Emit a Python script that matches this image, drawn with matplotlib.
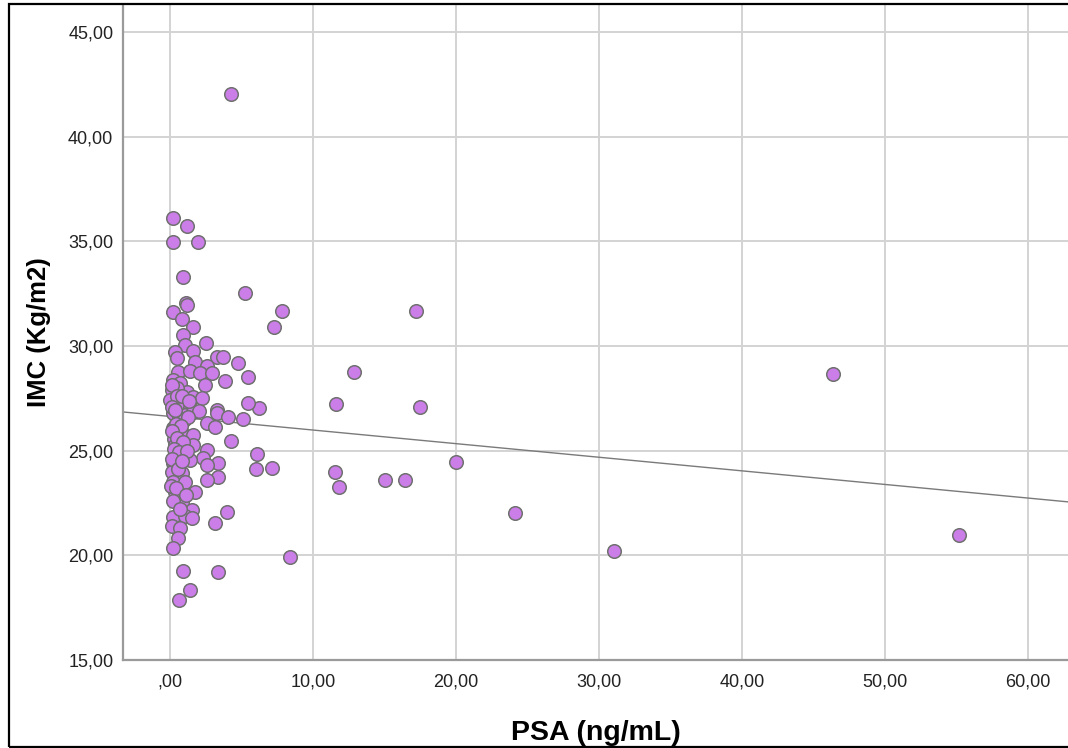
import matplotlib.pyplot as plt
from matplotlib.patches import Rectangle
from matplotlib.ticker import FuncFormatter

plt.rcParams["font.family"] = ["Liberation Sans", "DejaVu Sans"]

# values (PSA in ng/mL, IMC in kg/m2)
psa_outer = [4.27, 5.24, 7.81, 7.27, 17.2, 12.87, 46.36, 17.48, 11.61, 6.25,
             5.48, 5.48, 4.78, 5.13, 4.27, 4.08, 6.06, 6.01, 7.11, 11.54,
             11.82, 15.03, 16.43, 20.0, 24.13, 31.05, 55.17, 8.39, 3.38, 0.93,
             1.40, 0.62, 3.96, 3.15]
imc_outer = [42.06, 32.53, 31.70, 30.90, 31.68, 28.76, 28.67, 27.09, 27.23, 27.03,
             27.30, 28.54, 29.21, 26.50, 25.48, 26.63, 24.84, 24.11, 24.16, 23.98,
             23.26, 23.60, 23.60, 24.45, 22.02, 20.20, 20.97, 19.91, 19.22, 19.27,
             18.37, 17.89, 22.09, 21.56]

psa_cluster = [0.19, 1.17, 0.19, 1.98, 0.93, 1.12, 1.20, 0.19, 0.82, 1.59,
               0.89, 1.05, 2.52, 0.35, 1.59, 0.47, 3.26, 3.73, 1.75, 2.56,
               0.58, 1.40, 2.10, 2.92, 0.23, 0.70, 2.45, 3.85, 0.12, 0.58,
               1.17, 1.63, 2.22, 0.00, 0.70, 0.93, 0.23, 0.93, 3.26, 1.40,
               0.23, 1.05, 1.60, 2.00, 3.26, 2.56, 3.15, 0.23, 0.82, 1.63,
               0.30, 0.35, 1.63, 0.35, 1.05, 2.56, 2.33, 1.40, 0.23, 0.58,
               3.38, 2.56, 0.12, 0.82, 3.38, 2.56, 0.23, 1.05, 0.35, 1.75,
               0.82, 1.51, 0.23, 1.05, 1.51, 0.12, 0.70, 0.58, 0.23, 0.45,
               0.10, 0.45, 0.80, 1.30, 0.15, 0.60, 1.00, 1.25, 0.40, 0.75,
               0.10, 0.50, 0.90, 0.30, 0.65, 1.20, 0.15, 0.55, 0.85, 0.05,
               0.40, 1.10, 0.20, 0.70, 0.35]
imc_cluster = [36.13, 35.75, 34.97, 34.97, 33.30, 32.08, 31.95, 31.65, 31.30, 30.90,
               30.54, 30.06, 30.17, 29.74, 29.79, 29.42, 29.47, 29.47, 29.26, 29.05,
               28.78, 28.83, 28.73, 28.73, 28.38, 28.22, 28.14, 28.35, 27.90, 27.75,
               27.82, 27.58, 27.51, 27.43, 27.34, 26.95, 27.03, 27.20, 26.95, 27.05,
               26.79, 26.71, 26.85, 26.90, 26.82, 26.31, 26.15, 26.07, 25.83, 25.75,
               25.55, 25.27, 25.27, 24.88, 24.71, 25.03, 24.64, 24.56, 24.40, 24.20,
               24.40, 24.32, 24.00, 23.92, 23.76, 23.60, 23.52, 23.52, 23.04, 23.04,
               22.48, 22.16, 21.84, 21.88, 21.77, 21.40, 21.29, 20.81, 20.33, 28.00,
               28.15, 27.60, 27.60, 27.40, 27.10, 26.55, 26.45, 26.60, 26.30, 26.20,
               25.95, 25.60, 25.40, 25.10, 24.95, 25.00, 24.60, 24.15, 24.50, 23.30,
               23.20, 22.90, 22.60, 22.20, 26.95]

# fit line
fit_intercept = 26.64
fit_slope = -0.065

x_lim = (-3.29, 62.8)
y_lim = (15, 46.3)
x_ticks = [0, 10, 20, 30, 40, 50, 60]
y_ticks = [15, 20, 25, 30, 35, 40, 45]


def comma_fmt(v, pos):
    s = f"{v:.2f}".replace(".", ",")
    if s.startswith("0,"):
        s = s[1:]
    return s


fig = plt.figure(figsize=(10.68, 7.48), dpi=100)
ax = fig.add_axes([0.1152, 0.1176, 0.8848, 0.8757])

ax.grid(True, color="#d3d3d3", linewidth=1.4, zorder=0)
ax.set_axisbelow(True)

xs = [x_lim[0], x_lim[1]]
ax.plot(xs, [fit_intercept + fit_slope * x for x in xs], color="#7a7a7a",
        linewidth=1.0, zorder=2)

ax.scatter(psa_cluster + psa_outer, imc_cluster + imc_outer, s=95,
           facecolor="#cb7de8", edgecolor="#707070", linewidth=1.1, zorder=3)

ax.set_xlim(*x_lim)
ax.set_ylim(*y_lim)
ax.set_xticks(x_ticks)
ax.set_yticks(y_ticks)
ax.xaxis.set_major_formatter(FuncFormatter(comma_fmt))
ax.yaxis.set_major_formatter(FuncFormatter(comma_fmt))
ax.tick_params(length=0, labelsize=13, colors="#222222")
ax.tick_params(axis="x", pad=10)
ax.tick_params(axis="y", pad=7)

for side in ["top", "right"]:
    ax.spines[side].set_visible(False)
for side in ["left", "bottom"]:
    ax.spines[side].set_color("#9a9a9a")
    ax.spines[side].set_linewidth(1.6)

ax.set_xlabel("PSA (ng/mL)", fontsize=20.5, fontweight="bold", labelpad=21)
ax.set_ylabel("IMC (Kg/m2)", fontsize=18.5, fontweight="bold", labelpad=12)

# outer frame of the exported chart
fig.patches.append(Rectangle((9 / 1068, 1 / 748), 1.0, 743 / 748,
                             transform=fig.transFigure, fill=False,
                             edgecolor="black", linewidth=1.6))

fig.savefig("out.png", dpi=100)
